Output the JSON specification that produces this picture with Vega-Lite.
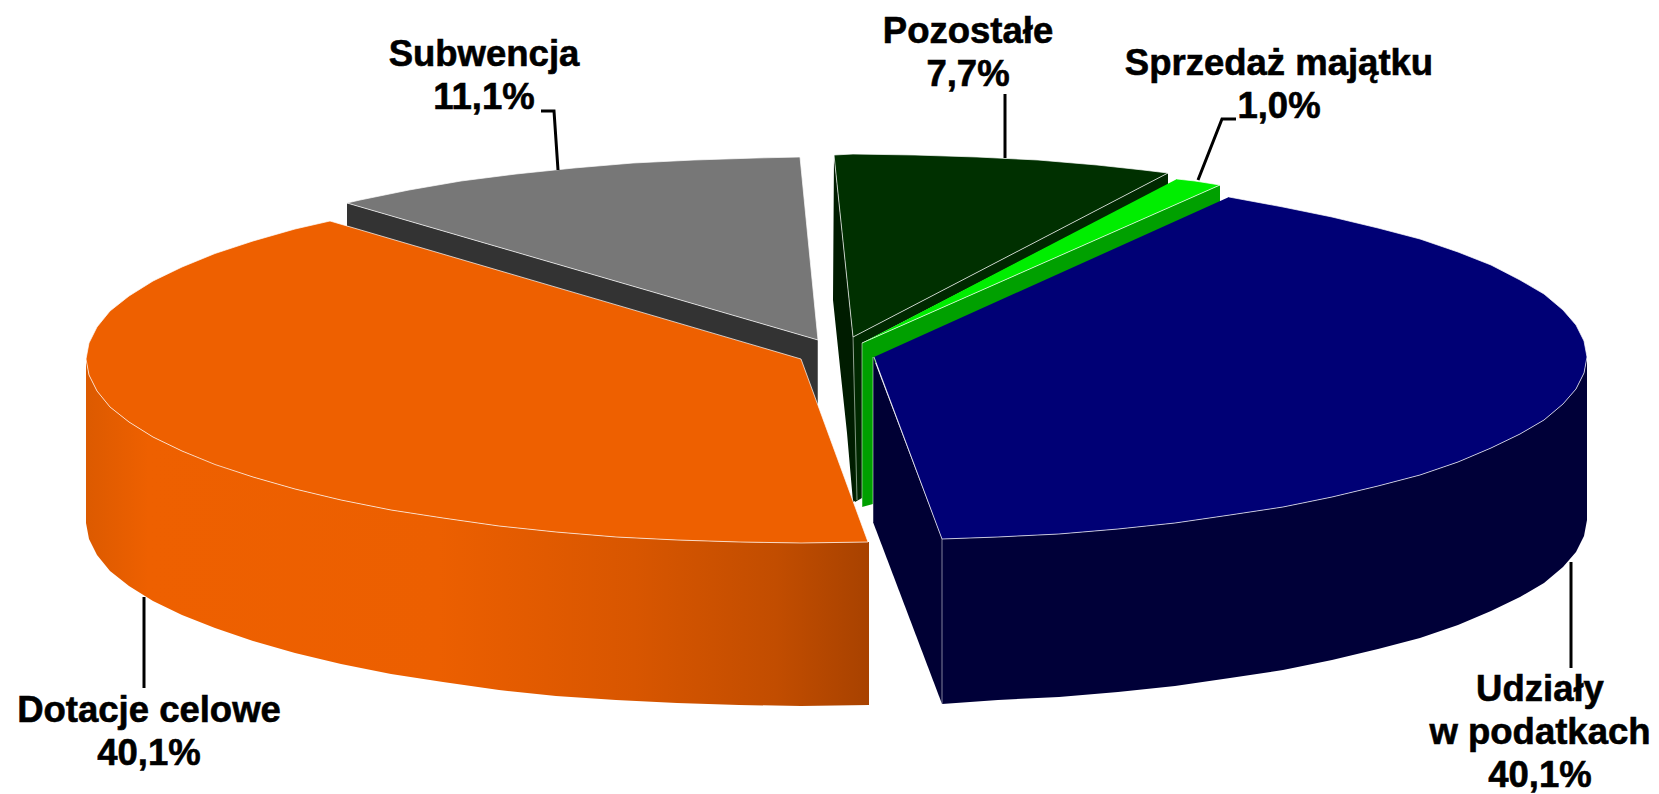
{"$schema":"https://vega.github.io/schema/vega-lite/v6.json","width":1659,"height":794,"padding":0,"autosize":"none","background":"white","view":{"stroke":null},
"datasets":{
"slices":[
{"part":"subwencja_side","seq":1,"x":347,"y":203},{"part":"subwencja_side","seq":2,"x":818,"y":340},{"part":"subwencja_side","seq":3,"x":818,"y":410},{"part":"subwencja_side","seq":4,"x":801,"y":420},{"part":"subwencja_side","seq":5,"x":347,"y":226},
{"part":"subwencja_top","seq":1,"x":347,"y":203},{"part":"subwencja_top","seq":2,"x":360,"y":200},{"part":"subwencja_top","seq":3,"x":409,"y":190},{"part":"subwencja_top","seq":4,"x":461,"y":181},{"part":"subwencja_top","seq":5,"x":516,"y":174},{"part":"subwencja_top","seq":6,"x":574,"y":168},{"part":"subwencja_top","seq":7,"x":633,"y":163},{"part":"subwencja_top","seq":8,"x":694,"y":160},{"part":"subwencja_top","seq":9,"x":756,"y":158},{"part":"subwencja_top","seq":10,"x":800,"y":157},{"part":"subwencja_top","seq":11,"x":818,"y":340},{"part":"subwencja_top","seq":12,"x":347,"y":203},
{"part":"dotacje_top","seq":1,"x":801,"y":359},{"part":"dotacje_top","seq":2,"x":330,"y":221},{"part":"dotacje_top","seq":3,"x":295,"y":229},{"part":"dotacje_top","seq":4,"x":253,"y":241},{"part":"dotacje_top","seq":5,"x":215,"y":253.5},{"part":"dotacje_top","seq":6,"x":182,"y":267},{"part":"dotacje_top","seq":7,"x":153,"y":281},{"part":"dotacje_top","seq":8,"x":129,"y":296},{"part":"dotacje_top","seq":9,"x":110,"y":311},{"part":"dotacje_top","seq":10,"x":97,"y":327},{"part":"dotacje_top","seq":11,"x":89,"y":343},{"part":"dotacje_top","seq":12,"x":86,"y":359},{"part":"dotacje_top","seq":13,"x":89,"y":375},{"part":"dotacje_top","seq":14,"x":97,"y":391},{"part":"dotacje_top","seq":15,"x":110,"y":407},{"part":"dotacje_top","seq":16,"x":129,"y":422},{"part":"dotacje_top","seq":17,"x":153,"y":437},{"part":"dotacje_top","seq":18,"x":182,"y":451},{"part":"dotacje_top","seq":19,"x":215,"y":464.5},{"part":"dotacje_top","seq":20,"x":253,"y":477},{"part":"dotacje_top","seq":21,"x":295,"y":489},{"part":"dotacje_top","seq":22,"x":341,"y":500},{"part":"dotacje_top","seq":23,"x":391,"y":510},{"part":"dotacje_top","seq":24,"x":443,"y":518},{"part":"dotacje_top","seq":25,"x":499,"y":526},{"part":"dotacje_top","seq":26,"x":556,"y":532},{"part":"dotacje_top","seq":27,"x":616,"y":537},{"part":"dotacje_top","seq":28,"x":677,"y":540},{"part":"dotacje_top","seq":29,"x":739,"y":542},{"part":"dotacje_top","seq":30,"x":801,"y":543},{"part":"dotacje_top","seq":31,"x":868,"y":542},{"part":"dotacje_top","seq":32,"x":801,"y":359},
{"part":"pozostale_left","seq":1,"x":834,"y":155},{"part":"pozostale_left","seq":2,"x":853,"y":337},{"part":"pozostale_left","seq":3,"x":857,"y":500},{"part":"pozostale_left","seq":4,"x":853,"y":502},{"part":"pozostale_left","seq":5,"x":847,"y":433},{"part":"pozostale_left","seq":6,"x":840,"y":367},{"part":"pozostale_left","seq":7,"x":833,"y":300},
{"part":"pozostale_right","seq":1,"x":853,"y":337},{"part":"pozostale_right","seq":2,"x":1168,"y":173},{"part":"pozostale_right","seq":3,"x":1168,"y":185},{"part":"pozostale_right","seq":4,"x":862,"y":343},{"part":"pozostale_right","seq":5,"x":862,"y":498},{"part":"pozostale_right","seq":6,"x":855,"y":502},
{"part":"pozostale_top","seq":1,"x":853,"y":337},{"part":"pozostale_top","seq":2,"x":834,"y":155},{"part":"pozostale_top","seq":3,"x":853,"y":154},{"part":"pozostale_top","seq":4,"x":915,"y":155},{"part":"pozostale_top","seq":5,"x":977,"y":157},{"part":"pozostale_top","seq":6,"x":1038,"y":160},{"part":"pozostale_top","seq":7,"x":1097,"y":165},{"part":"pozostale_top","seq":8,"x":1143,"y":170},{"part":"pozostale_top","seq":9,"x":1168,"y":173},{"part":"pozostale_top","seq":10,"x":853,"y":337},
{"part":"sprzedaz_side","seq":1,"x":862,"y":343},{"part":"sprzedaz_side","seq":2,"x":1220,"y":185},{"part":"sprzedaz_side","seq":3,"x":1220,"y":205},{"part":"sprzedaz_side","seq":4,"x":873,"y":364},{"part":"sprzedaz_side","seq":5,"x":873,"y":504},{"part":"sprzedaz_side","seq":6,"x":862,"y":507},
{"part":"sprzedaz_top","seq":1,"x":862,"y":343},{"part":"sprzedaz_top","seq":2,"x":1177,"y":179},{"part":"sprzedaz_top","seq":3,"x":1195,"y":181},{"part":"sprzedaz_top","seq":4,"x":1220,"y":185},{"part":"sprzedaz_top","seq":5,"x":862,"y":343},
{"part":"udzialy_cut","seq":1,"x":873,"y":357},{"part":"udzialy_cut","seq":2,"x":942,"y":539},{"part":"udzialy_cut","seq":3,"x":942,"y":704},{"part":"udzialy_cut","seq":4,"x":873,"y":522},
{"part":"udzialy_side","seq":1,"x":1587,"y":357},{"part":"udzialy_side","seq":2,"x":1584,"y":373},{"part":"udzialy_side","seq":3,"x":1576,"y":389},{"part":"udzialy_side","seq":4,"x":1563,"y":404},{"part":"udzialy_side","seq":5,"x":1544,"y":420},{"part":"udzialy_side","seq":6,"x":1520,"y":434},{"part":"udzialy_side","seq":7,"x":1491,"y":448},{"part":"udzialy_side","seq":8,"x":1458,"y":462},{"part":"udzialy_side","seq":9,"x":1420,"y":475},{"part":"udzialy_side","seq":10,"x":1378,"y":486},{"part":"udzialy_side","seq":11,"x":1332,"y":497},{"part":"udzialy_side","seq":12,"x":1283,"y":507},{"part":"udzialy_side","seq":13,"x":1230,"y":515},{"part":"udzialy_side","seq":14,"x":1175,"y":523},{"part":"udzialy_side","seq":15,"x":1118,"y":529},{"part":"udzialy_side","seq":16,"x":1059,"y":534},{"part":"udzialy_side","seq":17,"x":998,"y":537},{"part":"udzialy_side","seq":18,"x":942,"y":539},{"part":"udzialy_side","seq":19,"x":942,"y":704},{"part":"udzialy_side","seq":20,"x":998,"y":700},{"part":"udzialy_side","seq":21,"x":1059,"y":697},{"part":"udzialy_side","seq":22,"x":1118,"y":692},{"part":"udzialy_side","seq":23,"x":1175,"y":686},{"part":"udzialy_side","seq":24,"x":1230,"y":678},{"part":"udzialy_side","seq":25,"x":1283,"y":670},{"part":"udzialy_side","seq":26,"x":1332,"y":660},{"part":"udzialy_side","seq":27,"x":1378,"y":649},{"part":"udzialy_side","seq":28,"x":1420,"y":638},{"part":"udzialy_side","seq":29,"x":1458,"y":625},{"part":"udzialy_side","seq":30,"x":1491,"y":611},{"part":"udzialy_side","seq":31,"x":1520,"y":597},{"part":"udzialy_side","seq":32,"x":1544,"y":583},{"part":"udzialy_side","seq":33,"x":1563,"y":567},{"part":"udzialy_side","seq":34,"x":1576,"y":552},{"part":"udzialy_side","seq":35,"x":1584,"y":536},{"part":"udzialy_side","seq":36,"x":1587,"y":520},
{"part":"udzialy_top","seq":1,"x":874,"y":357},{"part":"udzialy_top","seq":2,"x":1229,"y":197},{"part":"udzialy_top","seq":3,"x":1283,"y":207},{"part":"udzialy_top","seq":4,"x":1332,"y":217},{"part":"udzialy_top","seq":5,"x":1378,"y":228},{"part":"udzialy_top","seq":6,"x":1420,"y":239},{"part":"udzialy_top","seq":7,"x":1458,"y":252},{"part":"udzialy_top","seq":8,"x":1491,"y":265},{"part":"udzialy_top","seq":9,"x":1520,"y":280},{"part":"udzialy_top","seq":10,"x":1544,"y":294},{"part":"udzialy_top","seq":11,"x":1563,"y":310},{"part":"udzialy_top","seq":12,"x":1576,"y":325},{"part":"udzialy_top","seq":13,"x":1584,"y":341},{"part":"udzialy_top","seq":14,"x":1587,"y":357},{"part":"udzialy_top","seq":15,"x":1584,"y":373},{"part":"udzialy_top","seq":16,"x":1576,"y":389},{"part":"udzialy_top","seq":17,"x":1563,"y":404},{"part":"udzialy_top","seq":18,"x":1544,"y":420},{"part":"udzialy_top","seq":19,"x":1520,"y":434},{"part":"udzialy_top","seq":20,"x":1491,"y":448},{"part":"udzialy_top","seq":21,"x":1458,"y":462},{"part":"udzialy_top","seq":22,"x":1420,"y":475},{"part":"udzialy_top","seq":23,"x":1378,"y":486},{"part":"udzialy_top","seq":24,"x":1332,"y":497},{"part":"udzialy_top","seq":25,"x":1283,"y":507},{"part":"udzialy_top","seq":26,"x":1230,"y":515},{"part":"udzialy_top","seq":27,"x":1175,"y":523},{"part":"udzialy_top","seq":28,"x":1118,"y":529},{"part":"udzialy_top","seq":29,"x":1059,"y":534},{"part":"udzialy_top","seq":30,"x":998,"y":537},{"part":"udzialy_top","seq":31,"x":942,"y":539},{"part":"udzialy_top","seq":32,"x":874,"y":357}
],
"dotacjeSide":[
{"part":"dotacje_side","seq":1,"x":86,"y":359},{"part":"dotacje_side","seq":2,"x":89,"y":375},{"part":"dotacje_side","seq":3,"x":97,"y":391},{"part":"dotacje_side","seq":4,"x":110,"y":407},{"part":"dotacje_side","seq":5,"x":129,"y":422},{"part":"dotacje_side","seq":6,"x":153,"y":437},{"part":"dotacje_side","seq":7,"x":182,"y":451},{"part":"dotacje_side","seq":8,"x":215,"y":464},{"part":"dotacje_side","seq":9,"x":253,"y":477},{"part":"dotacje_side","seq":10,"x":295,"y":489},{"part":"dotacje_side","seq":11,"x":341,"y":500},{"part":"dotacje_side","seq":12,"x":391,"y":510},{"part":"dotacje_side","seq":13,"x":443,"y":518},{"part":"dotacje_side","seq":14,"x":499,"y":526},{"part":"dotacje_side","seq":15,"x":556,"y":532},{"part":"dotacje_side","seq":16,"x":616,"y":537},{"part":"dotacje_side","seq":17,"x":677,"y":540},{"part":"dotacje_side","seq":18,"x":739,"y":542},{"part":"dotacje_side","seq":19,"x":801,"y":543},{"part":"dotacje_side","seq":20,"x":869,"y":542},{"part":"dotacje_side","seq":21,"x":869,"y":705},{"part":"dotacje_side","seq":22,"x":801,"y":706},{"part":"dotacje_side","seq":23,"x":739,"y":705},{"part":"dotacje_side","seq":24,"x":677,"y":703},{"part":"dotacje_side","seq":25,"x":616,"y":700},{"part":"dotacje_side","seq":26,"x":556,"y":696},{"part":"dotacje_side","seq":27,"x":499,"y":690},{"part":"dotacje_side","seq":28,"x":443,"y":682},{"part":"dotacje_side","seq":29,"x":391,"y":674},{"part":"dotacje_side","seq":30,"x":341,"y":664},{"part":"dotacje_side","seq":31,"x":295,"y":653},{"part":"dotacje_side","seq":32,"x":253,"y":641},{"part":"dotacje_side","seq":33,"x":215,"y":628},{"part":"dotacje_side","seq":34,"x":182,"y":615},{"part":"dotacje_side","seq":35,"x":153,"y":601},{"part":"dotacje_side","seq":36,"x":129,"y":586},{"part":"dotacje_side","seq":37,"x":110,"y":571},{"part":"dotacje_side","seq":38,"x":97,"y":555},{"part":"dotacje_side","seq":39,"x":89,"y":539},{"part":"dotacje_side","seq":40,"x":86,"y":523}
],
"edges":[
{"edge":"a","seq":1,"x":853,"y":337},{"edge":"a","seq":2,"x":857,"y":500},
{"edge":"b","seq":1,"x":862,"y":343},{"edge":"b","seq":2,"x":862,"y":507},
{"edge":"c","seq":1,"x":873,"y":357},{"edge":"c","seq":2,"x":873,"y":522},
{"edge":"d","seq":1,"x":942,"y":539},{"edge":"d","seq":2,"x":942,"y":704},
{"edge":"e","seq":1,"x":818,"y":340},{"edge":"e","seq":2,"x":818,"y":405}
],
"leaders":[
{"leader":"Pozostałe","seq":1,"x":1005,"y":94},{"leader":"Pozostałe","seq":2,"x":1005,"y":158},
{"leader":"Sprzedaż majątku","seq":1,"x":1236,"y":119},{"leader":"Sprzedaż majątku","seq":2,"x":1222,"y":119},{"leader":"Sprzedaż majątku","seq":3,"x":1198,"y":180},
{"leader":"Subwencja","seq":1,"x":541,"y":111},{"leader":"Subwencja","seq":2,"x":554,"y":111},{"leader":"Subwencja","seq":3,"x":558,"y":170},
{"leader":"Dotacje celowe","seq":1,"x":144,"y":597},{"leader":"Dotacje celowe","seq":2,"x":144,"y":688},
{"leader":"Udziały w podatkach","seq":1,"x":1571,"y":562},{"leader":"Udziały w podatkach","seq":2,"x":1571,"y":668}
],
"labels":[
{"name":"Subwencja","share":11.1,"label":"Subwencja\n11,1%","x":484,"y":55},
{"name":"Pozostałe","share":7.7,"label":"Pozostałe\n7,7%","x":968,"y":32},
{"name":"Sprzedaż majątku","share":1.0,"label":"Sprzedaż majątku\n1,0%","x":1279,"y":64},
{"name":"Dotacje celowe","share":40.1,"label":"Dotacje celowe\n40,1%","x":149,"y":711},
{"name":"Udziały w podatkach","share":40.1,"label":"Udziały\nw podatkach\n40,1%","x":1540,"y":690}
]},
"encoding":{"x":{"field":"x","type":"quantitative","axis":null,"scale":{"domain":[0,1659],"nice":false,"zero":false}},"y":{"field":"y","type":"quantitative","axis":null,"scale":{"domain":[794,0],"nice":false,"zero":false}}},
"layer":[
{"data":{"name":"slices"},"transform":[{"filter":"indexof(datum.part,'subwencja')==0"}],"mark":{"type":"line","filled":true,"strokeWidth":0},"encoding":{"order":{"field":"seq"},"detail":{"field":"part"},"color":{"field":"part","legend":null,"scale":{"domain":["subwencja_side","subwencja_top","dotacje_top","pozostale_left","pozostale_right","pozostale_top","sprzedaz_side","sprzedaz_top","udzialy_cut","udzialy_side","udzialy_top"],"range":["#333333","#777777","#EE6000","#001C00","#002800","#003000","#00A000","#00EE00","#000034","#000038","#000075"]}}}},
{"data":{"name":"dotacjeSide"},"mark":{"type":"line","strokeWidth":0,"fill":{"gradient":"linear","x1":0,"y1":0,"x2":1,"y2":0,"stops":[{"offset":0,"color":"#DC5A00"},{"offset":0.08,"color":"#EE6000"},{"offset":0.45,"color":"#EC5F00"},{"offset":0.7,"color":"#D85600"},{"offset":0.88,"color":"#C24D00"},{"offset":1,"color":"#A84200"}]}},"encoding":{"order":{"field":"seq"}}},
{"data":{"name":"slices"},"transform":[{"filter":"indexof(datum.part,'subwencja')!=0"}],"mark":{"type":"line","filled":true,"strokeWidth":0},"encoding":{"order":{"field":"seq"},"detail":{"field":"part"},"color":{"field":"part","legend":null,"scale":{"domain":["subwencja_side","subwencja_top","dotacje_top","pozostale_left","pozostale_right","pozostale_top","sprzedaz_side","sprzedaz_top","udzialy_cut","udzialy_side","udzialy_top"],"range":["#333333","#777777","#EE6000","#001C00","#002800","#003000","#00A000","#00EE00","#000034","#000038","#000075"]}}}},
{"data":{"name":"slices"},"transform":[{"filter":"indexof(datum.part,'_top')>0 && !((datum.part=='udzialy_top'||datum.part=='sprzedaz_top')&&datum.seq==1)"}],"mark":{"type":"line","stroke":"#ffffff","strokeWidth":1,"strokeOpacity":0.7},"encoding":{"order":{"field":"seq"},"detail":{"field":"part"}}},
{"data":{"name":"edges"},"mark":{"type":"line","stroke":"#ffffff","strokeWidth":1,"strokeOpacity":0.5},"encoding":{"order":{"field":"seq"},"detail":{"field":"edge"}}},
{"data":{"name":"leaders"},"mark":{"type":"line","stroke":"#000000","strokeWidth":3},"encoding":{"order":{"field":"seq"},"detail":{"field":"leader"}}},
{"data":{"name":"labels"},"mark":{"type":"text","font":"Liberation Sans","fontWeight":"bold","fontSize":36.5,"align":"center","baseline":"middle","lineBreak":"\n","lineHeight":43,"fill":"#000000","stroke":"#000000","strokeWidth":0.6},"encoding":{"text":{"field":"label"}}}
]}
